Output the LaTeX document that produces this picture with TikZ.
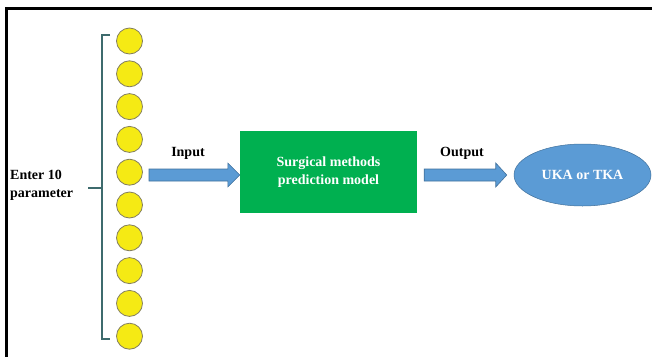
\documentclass[tikz,border=0pt]{standalone}
\usepackage{fontspec}
\setmainfont{Liberation Serif}
\usetikzlibrary{calc,shapes.geometric}
\definecolor{cyel}{HTML}{F5EA14}
\definecolor{cyelb}{HTML}{858060}
\definecolor{cgreen}{HTML}{00B050}
\definecolor{cblue}{HTML}{5B9BD5}
\definecolor{cblueb}{HTML}{41719C}
\definecolor{cbrace}{HTML}{3E6B6D}
\tikzset{
  ball/.style={circle,draw=cyelb,fill=cyel,line width=0.8pt,minimum size=26pt,inner sep=0pt},
  blockarrow/.style={draw=cblueb,fill=cblue,line width=0.6pt,line join=miter},
  lbl/.style={font=\fontsize{14}{18}\selectfont\bfseries,inner sep=0pt},
  braceline/.style={draw=cbrace,line width=1.6pt}
}
\begin{document}
\begin{tikzpicture}[x=1pt,y=-1pt]
\useasboundingbox (0,0) rectangle (652,356);
\fill[white] (0,0) rectangle (652,356);
\draw[line width=3pt] (6,358) -- (6,8) -- (654,8);
% circles
\foreach \i in {1,...,10}{
  \node[ball] (c\i) at (129.5,{41+32.8*(\i-1)}) {};
}
% brace
\draw[braceline] (110,35) -- (102,35) -- (102,339) -- (110,339);
\draw[braceline] (102,188) -- (88,188);
\node[lbl,align=left,anchor=west] (param) at (10,185) {Enter 10\\parameter};
% model
\node[fill=cgreen,minimum width=177pt,minimum height=82pt,inner sep=0pt,text=white,lbl,align=center] (model) at (328.5,172) {Surgical methods\\prediction model};
% result
\node[ellipse,fill=cblue,draw=cblueb,line width=0.5pt,minimum width=137pt,minimum height=62pt,inner sep=0pt,text=white,lbl] (res) at (582.5,175) {UKA or TKA};
% input arrow
\coordinate (in1) at (149,175);
\coordinate (inT) at (model.west |- in1);
\draw[blockarrow] ($(in1)+(0,-6)$) -- ($(inT)+(-12,-6)$) -- ($(inT)+(-12,-12)$) -- (inT) -- ($(inT)+(-12,12)$) -- ($(inT)+(-12,6)$) -- ($(in1)+(0,6)$) -- cycle;
\node[lbl,anchor=south] (inlbl) at (188,160) {Input};
% output arrow
\coordinate (out1) at ($(model.east |- res.west)+(7,0)$);
\coordinate (outT) at ($(res.west)+(-7,0)$);
\draw[blockarrow] ($(out1)+(0,-6)$) -- ($(outT)+(-11,-6)$) -- ($(outT)+(-11,-12)$) -- (outT) -- ($(outT)+(-11,12)$) -- ($(outT)+(-11,6)$) -- ($(out1)+(0,6)$) -- cycle;
\node[lbl,anchor=south] (outlbl) at (462,160) {Output};
\end{tikzpicture}
\end{document}
